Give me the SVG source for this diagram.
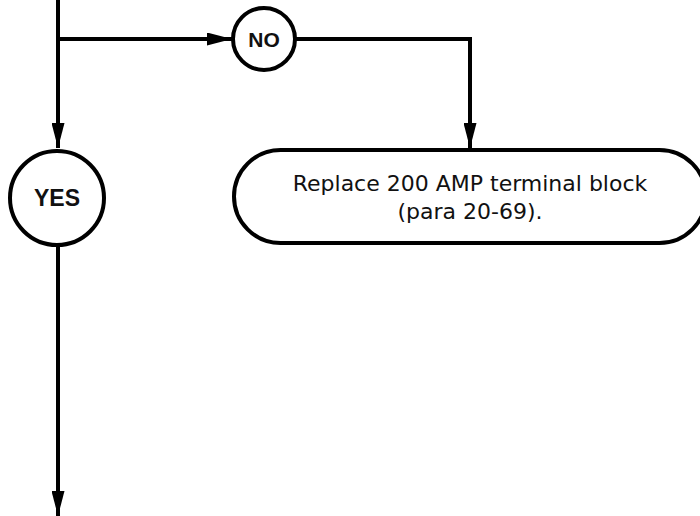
<svg xmlns="http://www.w3.org/2000/svg" width="700" height="516" viewBox="0 0 700 516">
<style>
.ln{fill:none;stroke:#000;stroke-width:4}
.nd{fill:#fff;stroke:#000;stroke-width:4}
.lb{font-family:"Liberation Sans",Arial,sans-serif;font-weight:bold;font-size:21px;fill:#111;text-anchor:middle}
.tx{font-family:"DejaVu Sans",sans-serif;font-size:22px;fill:#111;text-anchor:middle}
</style>
<defs>
<marker id="ah" viewBox="0 0 25 13" refX="25" refY="6.5" markerWidth="25" markerHeight="13" markerUnits="userSpaceOnUse" orient="auto">
<path d="M0,0 L25,6.5 L0,13 Z" fill="#000"/>
</marker>
</defs>
<g id="connectors">
<path class="ln" d="M58,0 V148" marker-end="url(#ah)"/>
<path class="ln" d="M58,39 H232" marker-end="url(#ah)"/>
<path class="ln" d="M296,39 H470 V148" marker-end="url(#ah)"/>
<path class="ln" d="M58,246 V516" marker-end="url(#ah)"/>
</g>
<g id="no">
<circle class="nd" cx="264" cy="39" r="31"/>
<text class="lb" x="264" y="47">NO</text>
</g>
<g id="yes">
<circle class="nd" cx="57" cy="198" r="47"/>
<text class="lb" x="57" y="206" style="font-size:23px">YES</text>
</g>
<g id="replace">
<rect class="nd" x="234" y="150" width="472" height="93" rx="46.5" ry="46.5"/>
<text class="tx" x="470" y="191">Replace 200 AMP terminal block</text>
<text class="tx" x="470" y="219">(para 20-69).</text>
</g>
</svg>
